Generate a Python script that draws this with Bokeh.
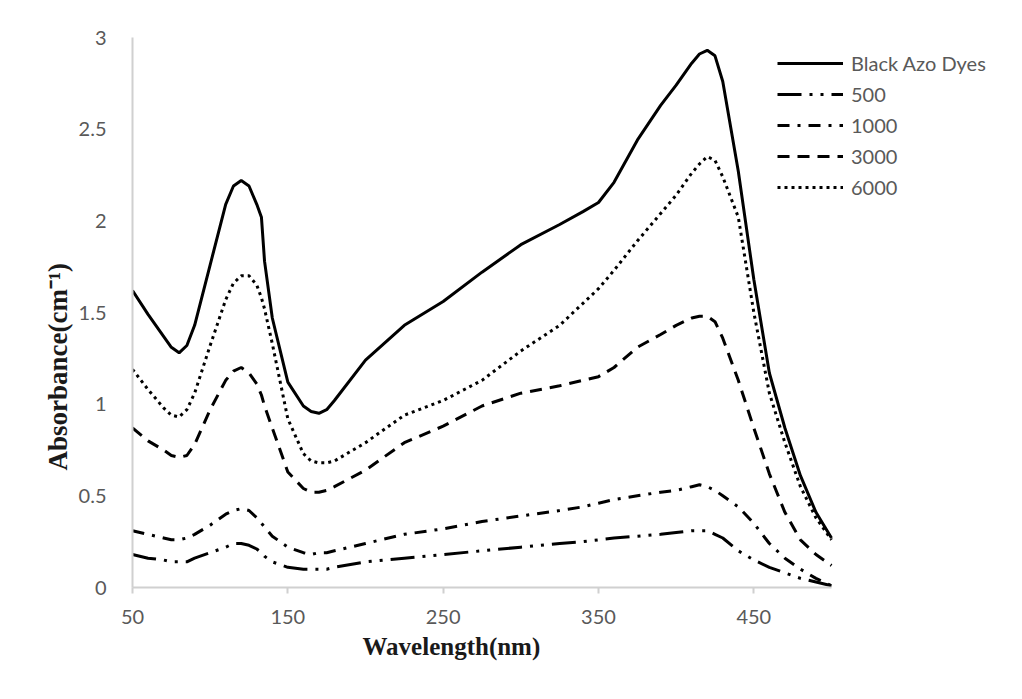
from bokeh.plotting import figure
from bokeh.models import Range1d, FixedTicker, Legend, LegendItem, Title
from bokeh.embed import file_html
from bokeh.resources import INLINE

# ---------------- data ----------------
wavelength = [50, 60, 70, 75, 80, 85, 90, 100, 110, 115, 120, 125, 130, 133, 135, 140, 150, 160, 165, 170,
              175, 180, 200, 225, 250, 275, 300, 325, 340, 350, 360, 375, 390, 400, 410, 415, 420, 425,
              430, 440, 450, 460, 470, 480, 490, 500]

black_azo = [1.62, 1.49, 1.37, 1.31, 1.28, 1.32, 1.43, 1.76, 2.09, 2.19, 2.22, 2.19, 2.09, 2.02, 1.78, 1.47, 1.12,
             0.99, 0.96, 0.95, 0.97, 1.02, 1.24, 1.43, 1.56, 1.72, 1.87, 1.98, 2.05, 2.10, 2.21, 2.44, 2.63,
             2.74, 2.86, 2.91, 2.93, 2.90, 2.76, 2.27, 1.68, 1.17, 0.87, 0.61, 0.41, 0.27]

s500 = [0.18, 0.16, 0.15, 0.14, 0.14, 0.14, 0.16, 0.19, 0.22, 0.24, 0.24, 0.23, 0.21, 0.19, 0.17, 0.14, 0.11,
        0.10, 0.10, 0.10, 0.10, 0.11, 0.14, 0.16, 0.18, 0.20, 0.22, 0.24, 0.25, 0.26, 0.27, 0.28, 0.29,
        0.30, 0.31, 0.31, 0.31, 0.29, 0.27, 0.20, 0.15, 0.11, 0.08, 0.05, 0.03, 0.01]

s1000 = [0.31, 0.29, 0.27, 0.26, 0.26, 0.27, 0.29, 0.34, 0.40, 0.42, 0.43, 0.42, 0.38, 0.35, 0.33, 0.28, 0.22,
         0.19, 0.18, 0.19, 0.19, 0.20, 0.24, 0.29, 0.32, 0.36, 0.39, 0.42, 0.44, 0.46, 0.48, 0.50, 0.52,
         0.53, 0.55, 0.56, 0.55, 0.53, 0.50, 0.44, 0.35, 0.24, 0.16, 0.10, 0.05, 0.01]

s3000 = [0.87, 0.80, 0.75, 0.72, 0.71, 0.72, 0.78, 0.97, 1.13, 1.18, 1.20, 1.17, 1.11, 1.05, 0.99, 0.87, 0.63,
         0.54, 0.52, 0.52, 0.53, 0.55, 0.64, 0.79, 0.88, 0.99, 1.06, 1.10, 1.13, 1.15, 1.20, 1.31, 1.38,
         1.43, 1.47, 1.48, 1.48, 1.45, 1.36, 1.13, 0.87, 0.62, 0.41, 0.26, 0.18, 0.12]

s6000 = [1.19, 1.08, 0.98, 0.94, 0.93, 0.97, 1.06, 1.32, 1.57, 1.66, 1.70, 1.70, 1.65, 1.58, 1.52, 1.33, 0.92,
         0.73, 0.69, 0.68, 0.68, 0.69, 0.79, 0.94, 1.02, 1.13, 1.29, 1.43, 1.55, 1.63, 1.73, 1.89, 2.04,
         2.14, 2.26, 2.31, 2.35, 2.33, 2.24, 2.02, 1.50, 1.06, 0.79, 0.55, 0.38, 0.26]

series_names = ["Black Azo Dyes", "500", "1000", "3000", "6000"]
x_ticks = [50, 150, 250, 350, 450]
y_ticks = [0, 0.5, 1, 1.5, 2, 2.5, 3]
y_tick_labels = ["0", "0.5", "1", "1.5", "2", "2.5", "3"]
x_title = "Wavelength(nm)"
y_title = "Absorbance(cm\u207b\u00b9)"

# ---------------- figure ----------------
W, H = 1022, 699
frame_left, frame_right_px, axis_end_px = 132, 1010, 831
x_min, x_max_axis = 50, 500
px_per_unit = (axis_end_px - frame_left) / (x_max_axis - x_min)
x_view_end = x_min + (frame_right_px - frame_left) / px_per_unit

p = figure(width=W, height=H, output_backend="svg", toolbar_location=None,
           x_range=Range1d(x_min, x_view_end), y_range=Range1d(0, 3),
           min_border_left=frame_left, min_border_right=W - frame_right_px,
           min_border_top=37, min_border_bottom=112)
p.background_fill_color = "white"
p.border_fill_color = "white"
p.outline_line_color = None
p.xgrid.visible = False
p.ygrid.visible = False

tick_font = "Lato"
gray_txt = "#595959"
axis_gray = "#d0d0d0"

p.xaxis.bounds = (x_min, x_max_axis)
p.xaxis.ticker = FixedTicker(ticks=x_ticks)
p.yaxis.ticker = FixedTicker(ticks=y_ticks)
p.yaxis.major_label_overrides = {t: l for t, l in zip(y_ticks, y_tick_labels)}
for ax in (p.xaxis[0], p.yaxis[0]):
    ax.axis_line_color = axis_gray
    ax.axis_line_width = 2
    ax.minor_tick_line_color = None
    ax.major_label_text_font = tick_font
    ax.major_label_text_font_size = "20px"
    ax.major_label_text_color = gray_txt
p.xaxis.major_tick_line_color = axis_gray
p.xaxis.major_tick_line_width = 2
p.xaxis.major_tick_out = 6
p.xaxis.major_tick_in = 0
p.xaxis.major_label_standoff = 16
p.yaxis.major_tick_line_color = None
p.yaxis.major_label_standoff = 20

# ---------------- lines ----------------
styles = [
    (black_azo, "solid"),
    (s500, "24 8 3 8 3 8"),
    (s1000, "12 8 3 8"),
    (s3000, "12 8"),
    (s6000, "3 4"),
]
items = []
for name, (vals, dash) in zip(series_names, styles):
    r = p.line(wavelength, vals, line_color="black", line_width=3, line_dash=dash)
    items.append(LegendItem(label=name, renderers=[r]))

legend = Legend(items=items, location=(645, 388), orientation="vertical",
                border_line_color=None, background_fill_alpha=0,
                glyph_width=66, glyph_height=20, label_height=20, label_standoff=8, spacing=7,
                padding=0, margin=0,
                label_text_font=tick_font, label_text_font_size="20px",
                label_text_color=gray_txt)
p.add_layout(legend, "center")

# ---------------- axis titles ----------------
p.add_layout(Title(text=x_title, align="left", offset=230, standoff=8,
                   text_font="Liberation Serif", text_font_style="bold",
                   text_font_size="25px", text_color="#1a1a1a"), "below")
p.add_layout(Title(text=y_title, align="left", offset=117, standoff=6,
                   text_font="Liberation Serif", text_font_style="bold",
                   text_font_size="27px", text_color="#1a1a1a"), "left")

open("out.html", "w").write(file_html(p, INLINE))
